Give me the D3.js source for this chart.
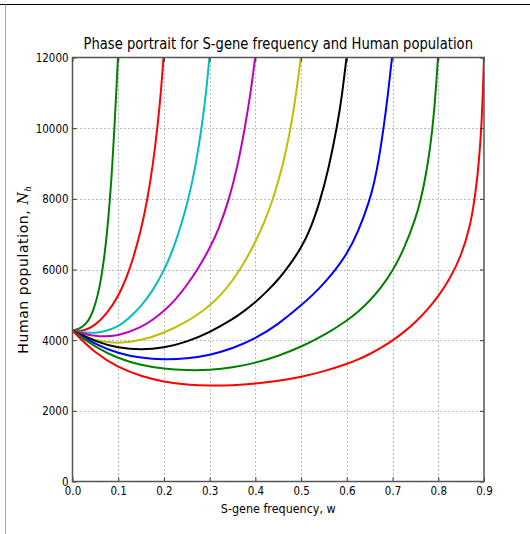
<!DOCTYPE html>
<html lang="en">

<head>
  <meta charset="UTF-8">
  <title>Phase portrait</title>
  <style>
    body { margin: 0; background: #fff; }
  </style>
</head>

<body>
  <svg></svg>
  <script src="https://cdn.jsdelivr.net/npm/d3@7/dist/d3.min.js"></script>
  <script>
    // values: [w, N_h]
    var curve01 = [[0, 4270], [0.02, 4340], [0.035, 4540], [0.045, 4820], [0.055, 5250], [0.062, 5700], [0.068, 6200], [0.075, 6950], [0.082, 8000], [0.087, 8930], [0.0914, 9940], [0.0955, 10960], [0.0995, 12000]];
    var curve02 = [[0, 4270], [0.025, 4250], [0.05, 4420], [0.075, 4750], [0.1, 5220], [0.126, 6000], [0.15, 7100], [0.164, 8000], [0.175, 8880], [0.186, 10030], [0.194, 11100], [0.199, 12000]];
    var curve03 = [[0, 4270], [0.05, 4160], [0.1, 4360], [0.125, 4640], [0.15, 4960], [0.175, 5385], [0.2, 5960], [0.225, 6710], [0.253, 7940], [0.268, 8840], [0.282, 9960], [0.292, 10960], [0.2995, 12000]];
    var curve04 = [[0, 4270], [0.05, 4090], [0.1, 4110], [0.15, 4360], [0.175, 4570], [0.2, 4820], [0.225, 5140], [0.25, 5550], [0.275, 6025], [0.3, 6600], [0.32, 7140], [0.343, 8010], [0.36, 8860], [0.377, 9990], [0.39, 11030], [0.3995, 12000]];
    var curve05 = [[0, 4270], [0.05, 3980], [0.1, 3900], [0.15, 3990], [0.2, 4200], [0.25, 4520], [0.275, 4735], [0.3, 4980], [0.325, 5280], [0.35, 5680], [0.375, 6170], [0.4, 6780], [0.42, 7340], [0.44, 8040], [0.46, 8940], [0.477, 9960], [0.49, 11050], [0.4993, 12000]];
    var curve06 = [[0, 4270], [0.05, 3960], [0.1, 3780], [0.15, 3720], [0.2, 3780], [0.25, 3950], [0.3, 4220], [0.35, 4590], [0.375, 4820], [0.4, 5070], [0.425, 5375], [0.45, 5710], [0.475, 6125], [0.5, 6610], [0.52, 7130], [0.54, 7870], [0.56, 8830], [0.58, 10130], [0.59, 10980], [0.5993, 12000]];
    var curve07 = [[0, 4270], [0.05, 3880], [0.1, 3625], [0.15, 3495], [0.2, 3450], [0.25, 3475], [0.3, 3575], [0.35, 3760], [0.4, 4045], [0.45, 4445], [0.5, 4985], [0.525, 5273], [0.55, 5610], [0.575, 5985], [0.6, 6435], [0.625, 7060], [0.65, 7960], [0.66, 8460], [0.67, 9110], [0.68, 9960], [0.69, 10960], [0.6988, 12000]];
    var curve08 = [[0, 4270], [0.05, 3800], [0.1, 3480], [0.15, 3290], [0.2, 3185], [0.25, 3145], [0.3, 3150], [0.35, 3220], [0.4, 3355], [0.45, 3550], [0.5, 3810], [0.55, 4130], [0.6, 4550], [0.625, 4800], [0.65, 5112], [0.675, 5487], [0.7, 5950], [0.725, 6575], [0.75, 7425], [0.762, 7989], [0.772, 8609], [0.78, 9249], [0.787, 9949], [0.792, 10649], [0.796, 11329], [0.7993, 12000]];
    var curve09 = [[0, 4270], [0.05, 3620], [0.1, 3230], [0.15, 2980], [0.2, 2820], [0.25, 2735], [0.3, 2710], [0.35, 2720], [0.4, 2765], [0.45, 2845], [0.5, 2960], [0.55, 3115], [0.6, 3325], [0.625, 3450], [0.65, 3605], [0.675, 3780], [0.7, 3990], [0.725, 4228], [0.75, 4508], [0.775, 4838], [0.8, 5238], [0.825, 5725], [0.85, 6375], [0.87, 7235], [0.879, 7955], [0.886, 8655], [0.891, 9405], [0.895, 10205], [0.898, 11105], [0.8998, 12000]];

    var series = [curve01, curve02, curve03, curve04, curve05, curve06, curve07, curve08, curve09];
    var xTicks = [0, 0.1, 0.2, 0.3, 0.4, 0.5, 0.6, 0.7, 0.8, 0.9];
    var yTicks = [0, 2000, 4000, 6000, 8000, 10000, 12000];

    var title = "Phase portrait for S-gene frequency and Human population";
    var xTitle = "S-gene frequency, w";
    var yTitle = "Human population, ";

    var colors = ["#008000", "#ff0000", "#00bfbf", "#bf00bf", "#bfbf00", "#000000", "#0000ff", "#008000", "#ff0000"];
    var font = "'DejaVu Sans', sans-serif";
    var squeeze = 0.86; // 原图横向被压缩

    var width = 530, height = 534;
    var plotL = 72.5, plotR = 484, plotT = 57.5, plotB = 481.5;

    var svg = d3.select("svg")
      .attr("width", width)
      .attr("height", height);

    // 截图的边框
    svg.append("line")
      .attr("x1", 0).attr("x2", width)
      .attr("y1", 4.5).attr("y2", 4.5)
      .attr("stroke", "#000");
    svg.append("line")
      .attr("x1", 5.5).attr("x2", 5.5)
      .attr("y1", 4.5).attr("y2", height)
      .attr("stroke", "#aaa");

    var x = d3.scaleLinear().domain([0, 0.9]).range([plotL, plotR]);
    var y = d3.scaleLinear().domain([0, 12000]).range([plotB, plotT]);

    // 网格
    var grid = svg.append("g")
      .attr("stroke", "#777")
      .attr("stroke-width", 1)
      .attr("stroke-dasharray", "1,3");
    grid.selectAll(".gx")
      .data(xTicks.slice(1, -1))
      .join("line")
      .attr("x1", d => Math.round(x(d)) + 0.5)
      .attr("x2", d => Math.round(x(d)) + 0.5)
      .attr("y1", plotT).attr("y2", plotB);
    grid.selectAll(".gy")
      .data(yTicks.slice(1, -1))
      .join("line")
      .attr("y1", d => Math.round(y(d)) + 0.5)
      .attr("y2", d => Math.round(y(d)) + 0.5)
      .attr("x1", plotL).attr("x2", plotR);

    // 曲线
    svg.append("clipPath")
      .attr("id", "clip")
      .append("rect")
      .attr("x", plotL).attr("y", plotT)
      .attr("width", plotR - plotL).attr("height", plotB - plotT);

    var line = d3.line()
      .x(d => x(d[0]))
      .y(d => y(d[1]))
      .curve(d3.curveBasis);

    svg.append("g")
      .attr("clip-path", "url(#clip)")
      .selectAll("path")
      .data(series)
      .join("path")
      .attr("fill", "none")
      .attr("stroke", (d, i) => colors[i])
      .attr("stroke-width", 2)
      .attr("d", line);

    // 坐标轴
    var fmt = d3.format(".1f");
    function styleAxis(g) {
      g.select(".domain").remove();
      g.selectAll(".tick line").attr("stroke", "#333");
      g.selectAll("text")
        .attr("font-family", font)
        .attr("font-size", 12)
        .attr("fill", "#000");
    }
    // 文字横向压缩, 保持锚点不动
    function squeezeText(sel) {
      sel.each(function() {
        var t = d3.select(this);
        var tx = +t.attr("x") || 0;
        t.attr("transform", `translate(${tx * (1 - squeeze)}, 0) scale(${squeeze}, 1)`);
      });
    }

    svg.append("g")
      .attr("transform", `translate(0, ${plotB})`)
      .call(d3.axisBottom(x).tickValues(xTicks).tickFormat(fmt).tickSizeInner(-4).tickSizeOuter(0).tickPadding(5))
      .call(styleAxis)
      .selectAll("text").call(squeezeText);
    svg.append("g")
      .attr("transform", `translate(${plotL}, 0)`)
      .call(d3.axisLeft(y).tickValues(yTicks).tickFormat(d3.format("d")).tickSizeInner(-4).tickSizeOuter(0).tickPadding(4))
      .call(styleAxis)
      .selectAll("text").call(squeezeText);
    svg.append("g")
      .attr("transform", `translate(0, ${plotT})`)
      .call(d3.axisTop(x).tickValues(xTicks).tickFormat("").tickSizeInner(-4).tickSizeOuter(0))
      .call(styleAxis);
    svg.append("g")
      .attr("transform", `translate(${plotR}, 0)`)
      .call(d3.axisRight(y).tickValues(yTicks).tickFormat("").tickSizeInner(-4).tickSizeOuter(0))
      .call(styleAxis);

    // 边框
    svg.append("rect")
      .attr("x", plotL).attr("y", plotT)
      .attr("width", plotR - plotL).attr("height", plotB - plotT)
      .attr("fill", "none")
      .attr("stroke", "#555")
      .attr("stroke-width", 1.5);

    // 标题, 宽度压到约 390px
    var cx = (plotL + plotR) / 2;
    var titleText = svg.append("text")
      .attr("text-anchor", "middle")
      .attr("font-family", font)
      .attr("font-size", 16)
      .text(title);
    var k = 390 / titleText.node().getComputedTextLength();
    titleText.attr("transform", `translate(${cx}, 49) scale(${k}, 1)`);

    svg.append("text")
      .attr("transform", `translate(${cx}, 513) scale(${squeeze}, 1)`)
      .attr("text-anchor", "middle")
      .attr("font-family", font)
      .attr("font-size", 13)
      .text(xTitle);

    var yLabel = svg.append("text")
      .attr("transform", `translate(28, ${(plotT + plotB) / 2}) rotate(-90)`)
      .attr("text-anchor", "middle")
      .attr("font-family", font)
      .attr("font-size", 14)
      .attr("letter-spacing", 0.6)
      .text(yTitle);
    yLabel.append("tspan")
      .attr("font-style", "italic")
      .attr("font-family", "'DejaVu Serif', serif")
      .text("N");
    yLabel.append("tspan")
      .attr("font-style", "italic")
      .attr("font-family", "'DejaVu Serif', serif")
      .attr("font-size", 9)
      .attr("dy", 3)
      .text("h");
  </script>
</body>

</html>
